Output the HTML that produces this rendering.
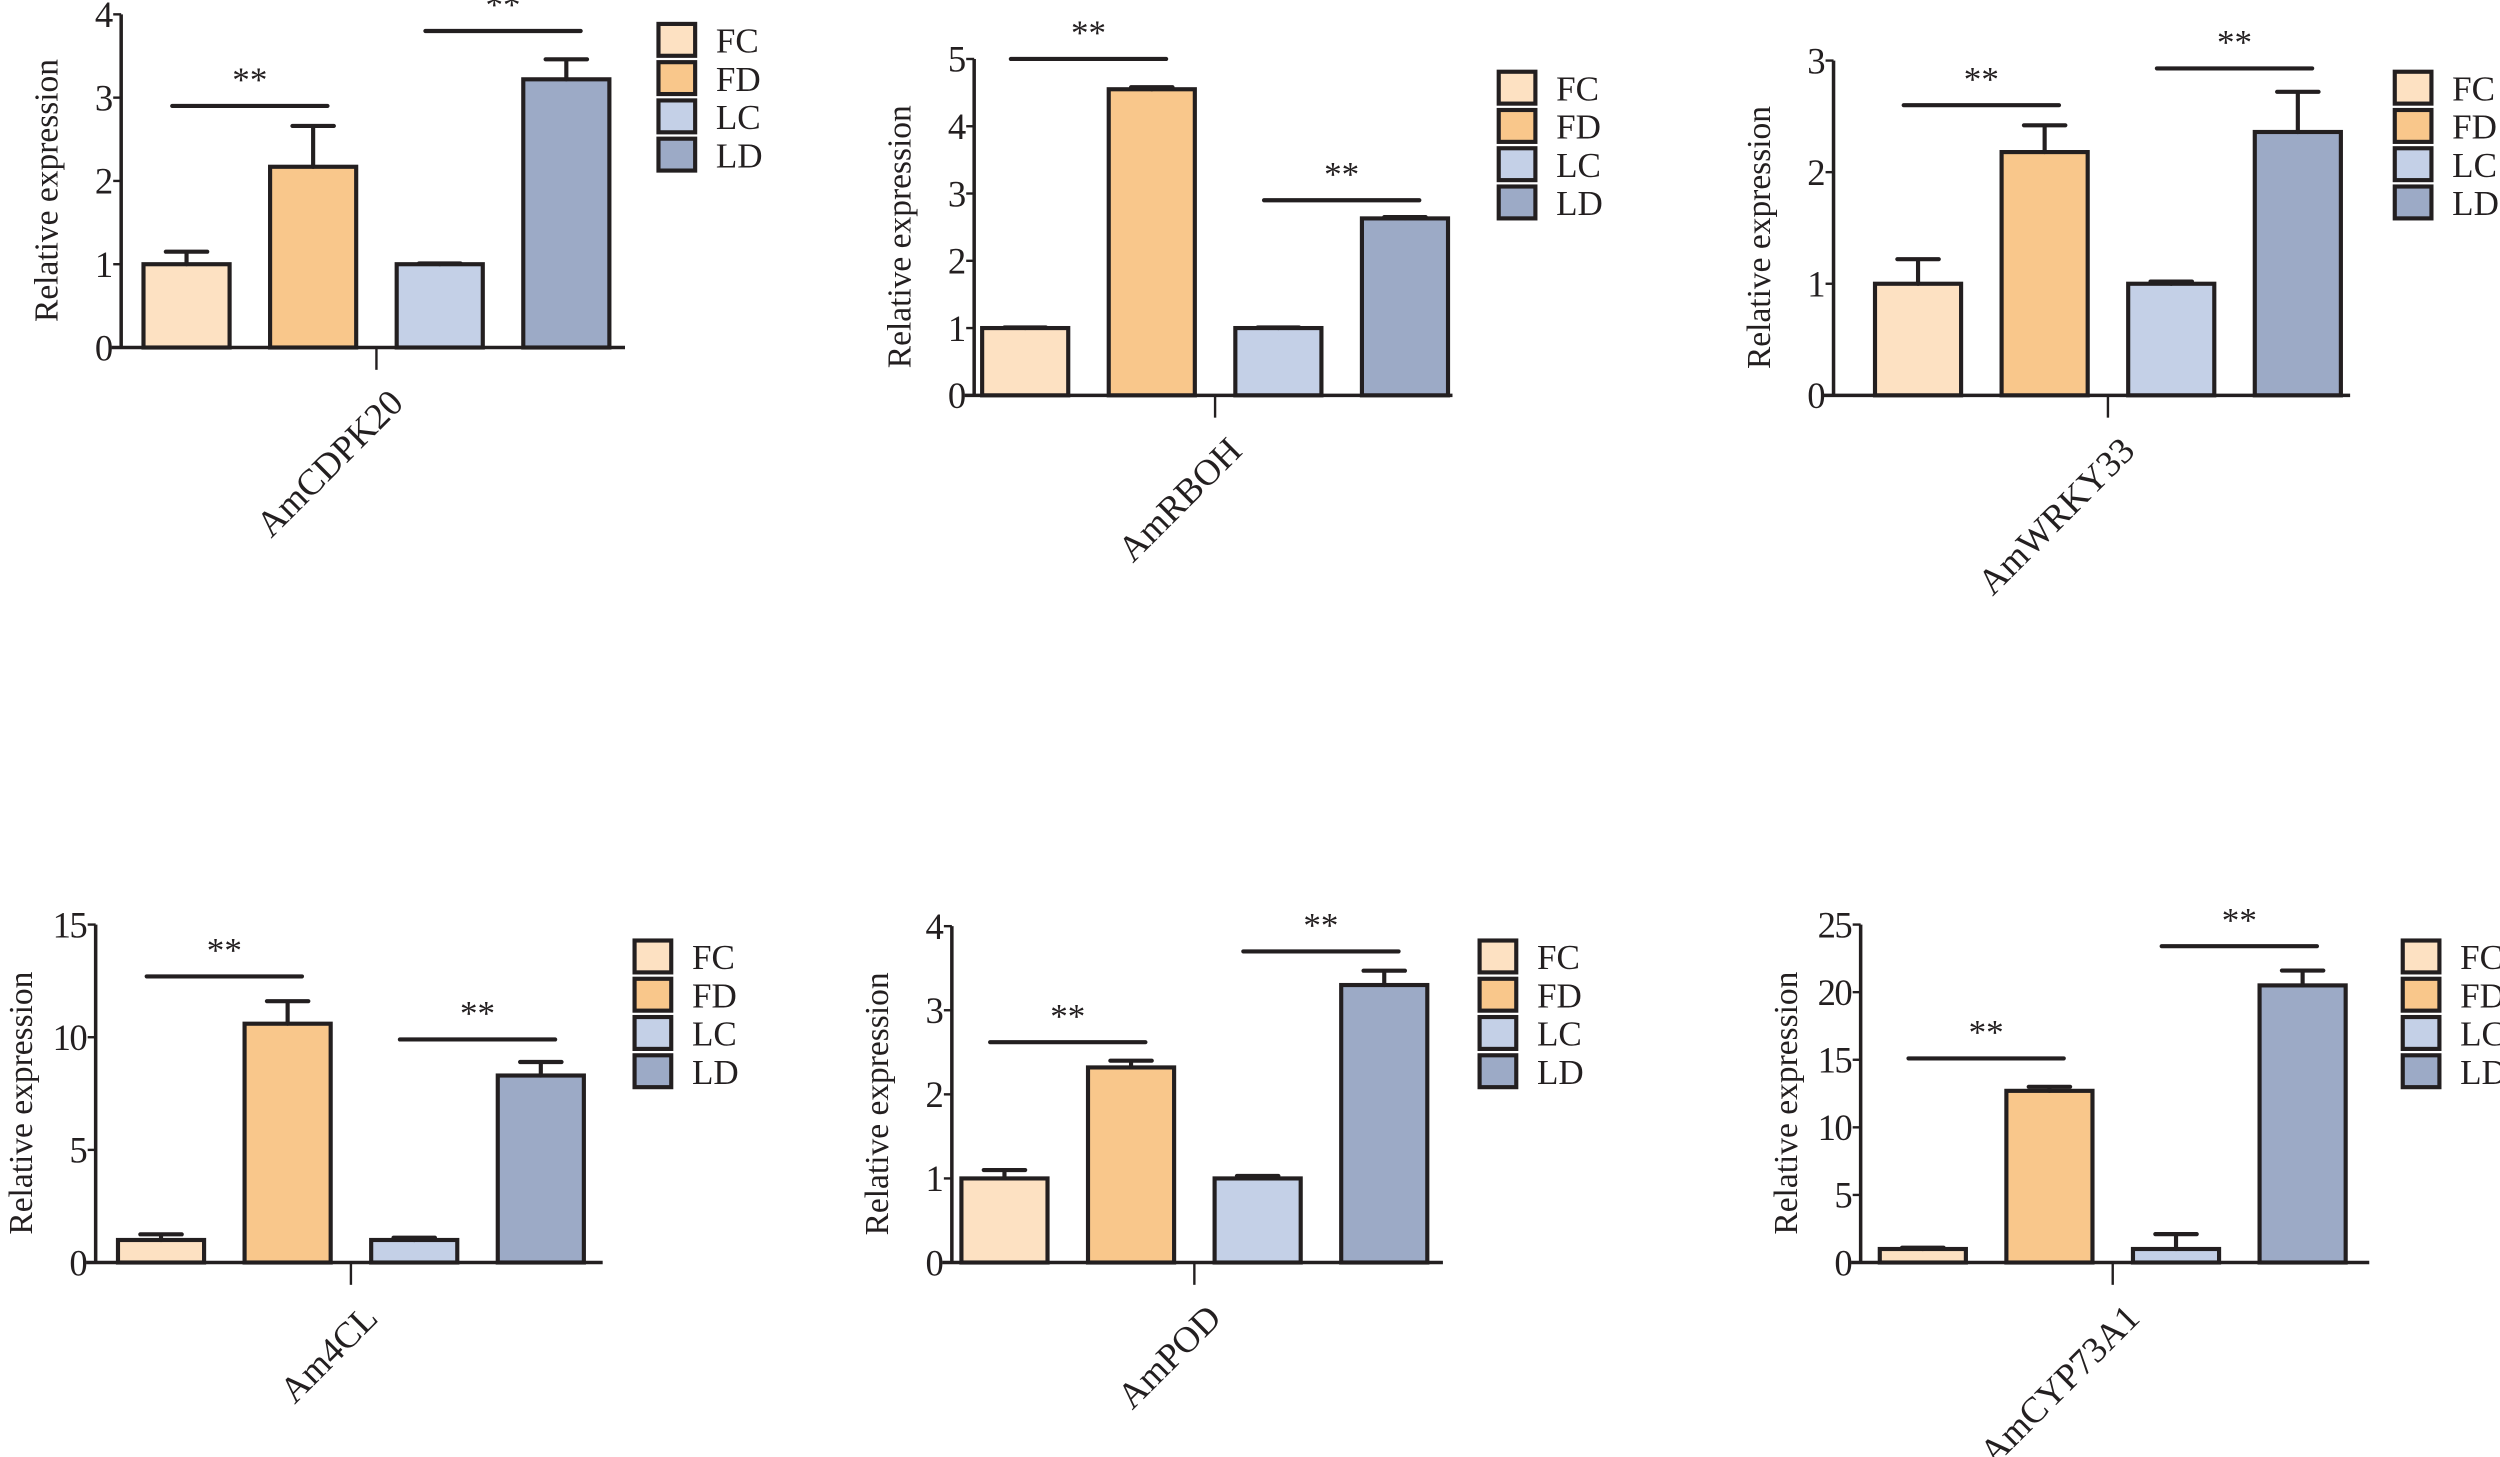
<!DOCTYPE html>
<html><head><meta charset="utf-8"><style>
html,body{margin:0;padding:0;background:#fff;}
svg{display:block;}
text{font-family:"Liberation Serif",serif;fill:#231f20;}
</style></head><body>
<svg id="fig" width="2500" height="1457" viewBox="0 0 1568 914" preserveAspectRatio="none" xmlns="http://www.w3.org/2000/svg"></svg>
<script>
const groups = ["FC","FD","LC","LD"];
const colors = ["#fde1c2","#f9c78b","#c4d0e7","#9caac6"];
const genes = ["AmCDPK20","AmRBOH","AmWRKY33","Am4CL","AmPOD","AmCYP73A1"];
const valsCDPK20 = [1, 2.17, 1, 3.22];
const errCDPK20 = [0.15, 0.49, 0.01, 0.24];
const valsRBOH = [1, 4.55, 1, 2.63];
const errRBOH = [0.01, 0.03, 0.01, 0.02];
const valsWRKY33 = [1, 2.18, 1, 2.36];
const errWRKY33 = [0.22, 0.24, 0.02, 0.36];
const vals4CL = [1, 10.6, 1, 8.3];
const err4CL = [0.25, 1.0, 0.1, 0.6];
const valsPOD = [1, 2.32, 1, 3.3];
const errPOD = [0.1, 0.08, 0.03, 0.17];
const valsCYP = [1, 12.7, 1, 20.5];
const errCYP = [0.1, 0.3, 1.1, 1.1];
const ticks1 = [0,1,2,3,4];
const ticks2 = [0,1,2,3,4,5];
const ticks3 = [0,1,2,3];
const ticks4 = [0,5,10,15];
const ticks5 = [0,1,2,3,4];
const ticks6 = [0,5,10,15,20,25];
const sig1 = [2.9, 3.8];
const sig2 = [5.0, 2.9];
const sig3 = [2.6, 2.93];
const sig4 = [12.7, 9.9];
const sig5 = [2.62, 3.7];
const sig6 = [15.1, 23.4];

const panels = [
 {vals:valsCDPK20, err:errCDPK20, ticks:ticks1, sig:sig1, ax:76, y0:218, top:9, max:4, bx:90, ex:392, lx:413, ly:15},
 {vals:valsRBOH, err:errRBOH, ticks:ticks2, sig:sig2, ax:611, y0:248, top:37, max:5, bx:616, ex:911, lx:940, ly:45},
 {vals:valsWRKY33, err:errWRKY33, ticks:ticks3, sig:sig3, ax:1150, y0:248, top:38, max:3, bx:1176, ex:1474, lx:1502, ly:45},
 {vals:vals4CL, err:err4CL, ticks:ticks4, sig:sig4, ax:60, y0:792, top:580, max:15, bx:74, ex:378, lx:398, ly:590},
 {vals:valsPOD, err:errPOD, ticks:ticks5, sig:sig5, ax:597, y0:792, top:581, max:4, bx:603, ex:905, lx:928, ly:590},
 {vals:valsCYP, err:errCYP, ticks:ticks6, sig:sig6, ax:1167, y0:792, top:580, max:25, bx:1179, ex:1486, lx:1507, ly:590}
];
const NS = "http://www.w3.org/2000/svg";
const svg = document.getElementById("fig");
const INK = "#231f20";
function mk(tag, attrs, parent){const e=document.createElementNS(NS,tag);for(const k in attrs)e.setAttribute(k,attrs[k]);(parent||svg).appendChild(e);return e;}

panels.forEach((p,pi)=>{
  const g = mk("g",{});
  
  
  const yS = v => p.y0 - (p.y0 - p.top) * v / p.max;
  const bw = 54, pitch = 79.4;
  const xS = i => p.bx + i * pitch;
  p.vals.forEach((v,i)=>{
    const r = mk("rect",{x:xS(i), y:yS(v), width:bw, height:p.y0-yS(v), fill:colors[i], stroke:INK, "stroke-width":2.6}, g);
    
    
    const cx = xS(i)+bw/2, yt = yS(v+p.err[i]);
    const e = mk("path",{d:`M${cx} ${yS(v)}V${yt}M${cx-13} ${yt}H${cx+13}`, stroke:INK, "stroke-width":2.6, fill:"none","stroke-linecap":"round"}, g);
    
    
  });
  const ya = mk("line",{x1:p.ax, y1:p.top, x2:p.ax, y2:p.y0, stroke:INK, "stroke-width":2.2}, g);
  
  
  const xa = mk("line",{x1:p.ax-6, y1:p.y0, x2:p.ex, y2:p.y0, stroke:INK, "stroke-width":2.2}, g);
  
  
  const mid = (xS(0) + xS(3) + bw)/2;
  mk("line",{x1:mid, y1:p.y0, x2:mid, y2:p.y0+14, stroke:INK, "stroke-width":1.5}, g);
  p.ticks.forEach(t=>{
    mk("line",{x1:p.ax-5, y1:yS(t), x2:p.ax, y2:yS(t), stroke:INK, "stroke-width":1.5}, g);
    const tl = mk("text",{x:p.ax-6, y:yS(t)+8, "font-size":23, "text-anchor":"end", "letter-spacing":"-1"}, g);
    tl.textContent = t;
    
    
  });
  const yt = mk("text",{x:0, y:0, "font-size":21, "text-anchor":"middle", transform:`translate(${p.ax-40},${(p.y0+p.top)/2+6}) rotate(-90)`}, g);
  yt.textContent = "Relative expression";
  
  
  const cl = mk("text",{x:0, y:0, "font-size":23, "text-anchor":"end", transform:`translate(${mid+18},${p.y0+36}) rotate(-45)`}, g);
  cl.textContent = genes[pi];
  
  
  p.sig.forEach((s,k)=>{
    const x1 = xS(2*k)+bw/2-9, x2 = xS(2*k+1)+bw/2+9;
    const sl = mk("line",{x1:x1, y1:yS(s), x2:x2, y2:yS(s), stroke:INK, "stroke-width":2.6, "stroke-linecap":"round"}, g);
    
    
    const st = mk("text",{x:(x1+x2)/2, y:yS(s)-9, "font-size":22, "text-anchor":"middle"}, g);
    st.textContent = "**";
    
    
  });
  groups.forEach((gname,i)=>{
    const ly = p.ly + i*24;
    const lb = mk("rect",{x:p.lx, y:ly, width:23, height:20, fill:colors[i], stroke:INK, "stroke-width":2.6}, g);
    
    
    const lt = mk("text",{x:p.lx+36, y:ly+18, "font-size":22}, g);
    lt.textContent = gname;
    
    
  });
});
</script>
</body></html>
